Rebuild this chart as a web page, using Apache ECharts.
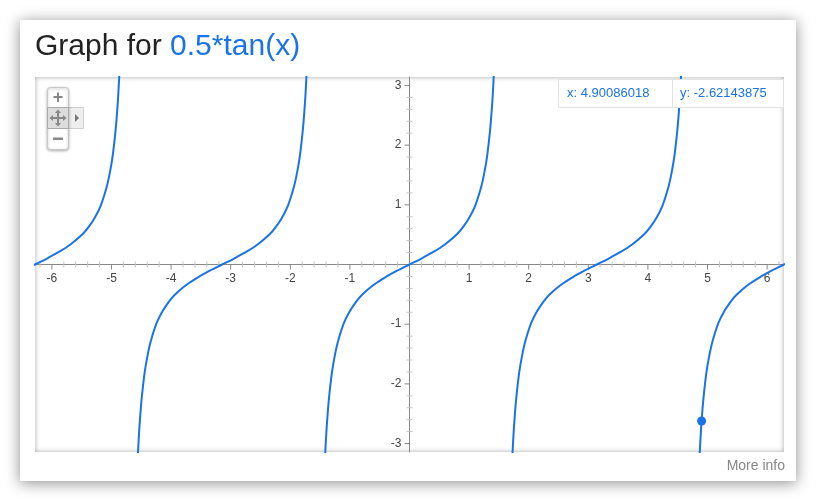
<!DOCTYPE html>
<html>
<head>
<meta charset="utf-8">
<script src="https://cdn.jsdelivr.net/npm/echarts@6/dist/echarts.min.js"></script>
<style>
  html, body { margin: 0; padding: 0; background: #fff; }
  #card { position: absolute; left: 20px; top: 20px; width: 776px; height: 461px; background: #fff;
          box-shadow: 0 2px 14px rgba(0,0,0,0.45); }
  #plotbg { position: absolute; left: 35px; top: 77px; width: 749px; height: 375px; background: #fff;
          box-shadow: inset 0 0 5px rgba(0,0,0,0.35); }
  #chart { position: absolute; left: 0; top: 0; width: 816px; height: 501px; }
</style>
</head>
<body>
<div id="card"></div>
<div id="plotbg"></div>
<div id="chart"></div>
<script>
// ---- data: 0.5*tan(x), one array per branch ----
const branchM2 = [[-6.483,-0.10],[-6.283,0],[-6.083,0.10],[-5.883,0.21],[-5.683,0.34],[-5.483,0.51],[-5.383,0.63],[-5.283,0.78],[-5.183,0.98],[-5.083,1.29],[-5.033,1.51],[-4.983,1.80],[-4.933,2.23],[-4.903,2.59],[-4.883,2.90],[-4.863,3.29]];
const branchM1 = [[-4.562,-3.29],[-4.542,-2.90],[-4.522,-2.59],[-4.492,-2.23],[-4.442,-1.80],[-4.392,-1.51],[-4.342,-1.29],[-4.242,-0.98],[-4.142,-0.78],[-4.042,-0.63],[-3.942,-0.51],[-3.742,-0.34],[-3.542,-0.21],[-3.342,-0.10],[-3.142,0],[-2.942,0.10],[-2.742,0.21],[-2.542,0.34],[-2.342,0.51],[-2.242,0.63],[-2.142,0.78],[-2.042,0.98],[-1.942,1.29],[-1.892,1.51],[-1.842,1.80],[-1.792,2.23],[-1.762,2.59],[-1.742,2.90],[-1.722,3.29]];
const branch0 = [[-1.42,-3.29],[-1.40,-2.90],[-1.38,-2.59],[-1.35,-2.23],[-1.30,-1.80],[-1.25,-1.51],[-1.20,-1.29],[-1.10,-0.98],[-1.00,-0.78],[-0.90,-0.63],[-0.80,-0.51],[-0.60,-0.34],[-0.40,-0.21],[-0.20,-0.10],[0,0],[0.20,0.10],[0.40,0.21],[0.60,0.34],[0.80,0.51],[0.90,0.63],[1.00,0.78],[1.10,0.98],[1.20,1.29],[1.25,1.51],[1.30,1.80],[1.35,2.23],[1.38,2.59],[1.40,2.90],[1.42,3.29]];
const branchP1 = [[1.722,-3.29],[1.742,-2.90],[1.762,-2.59],[1.792,-2.23],[1.842,-1.80],[1.892,-1.51],[1.942,-1.29],[2.042,-0.98],[2.142,-0.78],[2.242,-0.63],[2.342,-0.51],[2.542,-0.34],[2.742,-0.21],[2.942,-0.10],[3.142,0],[3.342,0.10],[3.542,0.21],[3.742,0.34],[3.942,0.51],[4.042,0.63],[4.142,0.78],[4.242,0.98],[4.342,1.29],[4.392,1.51],[4.442,1.80],[4.492,2.23],[4.522,2.59],[4.542,2.90],[4.562,3.29]];
const branchP2 = [[4.863,-3.29],[4.883,-2.90],[4.903,-2.59],[4.933,-2.23],[4.983,-1.80],[5.033,-1.51],[5.083,-1.29],[5.183,-0.98],[5.283,-0.78],[5.383,-0.63],[5.483,-0.51],[5.683,-0.34],[5.883,-0.21],[6.083,-0.10],[6.283,0],[6.483,0.10]];
const markerPoint = [[4.90086018, -2.62143875]];
const xTickLabels = [-6,-5,-4,-3,-2,-1,1,2,3,4,5,6];
const yTickLabels = [-3,-2,-1,1,2,3];
const xRange = [-6.2832, 6.2832];
const yRange = [-3.1416, 3.1416];
const titleText = 'Graph for ';
const titleFunc = '0.5*tan(x)';
const readoutX = 'x: 4.90086018';
const readoutY = 'y: -2.62143875';

// minor tick positions (axis decoration, every 0.2)
function minorTicks(lo, hi) {
  const out = [];
  for (let i = Math.ceil(lo * 5); i <= Math.floor(hi * 5); i++) { if (i % 5 !== 0) out.push(i / 5); }
  return out;
}
const xMinor = minorTicks(xRange[0], xRange[1]);
const yMinor = minorTicks(yRange[0], yRange[1]);

const FONT = 'Arial, "Liberation Sans", sans-serif';
const BLUE = '#1a73e8';
const AXIS = '#888';
const MINOR = '#c4c4c4';
const LABEL = '#444';
const chart = echarts.init(document.getElementById('chart'), null, { renderer: 'canvas' });

function branchSeries(data) {
  return { type: 'line', data: data, showSymbol: false, symbol: 'none',
           smooth: 0.3, lineStyle: { color: BLUE, width: 2 }, clip: true, silent: true, z: 3 };
}
function tickSeries(data, size, offset, color, label) {
  return { type: 'scatter', data: data, symbol: 'rect', symbolSize: size, symbolOffset: offset,
           itemStyle: { color: color, opacity: 1 }, silent: true, z: 2, clip: false,
           label: label || { show: false } };
}

chart.setOption({
  animation: false,
  textStyle: { fontFamily: FONT },
  grid: { left: 35, top: 77, width: 749, height: 375, containLabel: false },
  xAxis: {
    type: 'value', min: xRange[0], max: xRange[1],
    axisLine: { show: true, onZero: true, lineStyle: { color: AXIS, width: 1 } },
    axisTick: { show: false }, axisLabel: { show: false }, splitLine: { show: false }
  },
  yAxis: {
    type: 'value', min: yRange[0], max: yRange[1],
    axisLine: { show: true, onZero: true, lineStyle: { color: AXIS, width: 1 } },
    axisTick: { show: false }, axisLabel: { show: false }, splitLine: { show: false }
  },
  series: [
    // minor ticks across the axes
    tickSeries(xMinor.map(v => [v, 0]), [1, 6], [0, 0], MINOR),
    tickSeries(yMinor.map(v => [0, v]), [6, 1], [0, 0], MINOR),
    // major ticks with their labels
    tickSeries(xTickLabels.map(v => [v, 0]), [1, 5], [0, 2.5], AXIS,
      { show: true, position: 'bottom', distance: 3, color: LABEL, fontSize: 12, fontFamily: FONT,
        formatter: p => String(p.value[0]) }),
    tickSeries(yTickLabels.map(v => [0, v]), [5, 1], [-2.5, 0], AXIS,
      { show: true, position: 'left', distance: 3, color: LABEL, fontSize: 12, fontFamily: FONT,
        formatter: p => String(p.value[1]) }),
    branchSeries(branchM2), branchSeries(branchM1), branchSeries(branch0),
    branchSeries(branchP1), branchSeries(branchP2),
    { type: 'scatter', data: markerPoint, symbol: 'circle', symbolSize: 9,
      itemStyle: { color: BLUE, opacity: 1 }, z: 5, silent: true }
  ],
  graphic: [
    { type: 'text', left: 35, top: 32, silent: true,
      style: { text: '{a|' + titleText + '}{b|' + titleFunc + '}',
               rich: { a: { fill: '#222', fontSize: 30, fontFamily: FONT }, b: { fill: BLUE, fontSize: 30, fontFamily: FONT } } } },
    { type: 'text', right: 31, top: 459, silent: true,
      style: { text: 'More info', fill: '#888', fontSize: 14, fontFamily: FONT } },
    // readout box
    { type: 'rect', shape: { x: 558.5, y: 79.5, width: 225, height: 28 }, silent: true, z: 10,
      style: { fill: '#fff', stroke: '#e3e3e3', lineWidth: 1 } },
    { type: 'line', shape: { x1: 672.5, y1: 80, x2: 672.5, y2: 107 }, silent: true, z: 11,
      style: { stroke: '#e3e3e3', lineWidth: 1 } },
    { type: 'text', x: 567, y: 93, silent: true, z: 11,
      style: { text: readoutX, fill: BLUE, fontSize: 13, fontFamily: FONT, verticalAlign: 'middle' } },
    { type: 'text', x: 680, y: 93, silent: true, z: 11,
      style: { text: readoutY, fill: BLUE, fontSize: 13, fontFamily: FONT, verticalAlign: 'middle' } },
    // zoom control
    { type: 'rect', shape: { x: 68.5, y: 107.5, width: 15, height: 21 }, silent: true, z: 10,
      style: { fill: '#eee', stroke: '#d0d0d0', lineWidth: 1 } },
    { type: 'polygon', shape: { points: [[75, 114], [79, 118], [75, 122]] }, silent: true, z: 11,
      style: { fill: '#777' } },
    { type: 'rect', shape: { x: 47.5, y: 87.5, width: 21, height: 62, r: 3 }, silent: true, z: 10,
      style: { fill: '#fff', stroke: '#c8c8c8', lineWidth: 1, shadowBlur: 3, shadowColor: 'rgba(0,0,0,0.3)', shadowOffsetY: 1 } },
    { type: 'rect', shape: { x: 47.5, y: 107.5, width: 21, height: 21 }, silent: true, z: 11,
      style: { fill: '#ddd', stroke: '#aaa', lineWidth: 1 } },
    { type: 'text', x: 58, y: 98, silent: true, z: 12,
      style: { text: '+', fill: '#888', fontSize: 18, fontWeight: 'bold', fontFamily: FONT, align: 'center', verticalAlign: 'middle' } },
    { type: 'rect', shape: { x: 53, y: 137.5, width: 10, height: 2.5 }, silent: true, z: 12, style: { fill: '#888' } },
    // move cross
    { type: 'rect', shape: { x: 57, y: 111, width: 2, height: 14 }, silent: true, z: 12, style: { fill: '#888' } },
    { type: 'rect', shape: { x: 51, y: 117, width: 14, height: 2 }, silent: true, z: 12, style: { fill: '#888' } },
    { type: 'polygon', shape: { points: [[58, 109.5], [61, 113], [55, 113]] }, silent: true, z: 12, style: { fill: '#888' } },
    { type: 'polygon', shape: { points: [[58, 126.5], [61, 123], [55, 123]] }, silent: true, z: 12, style: { fill: '#888' } },
    { type: 'polygon', shape: { points: [[49.5, 118], [53, 115], [53, 121]] }, silent: true, z: 12, style: { fill: '#888' } },
    { type: 'polygon', shape: { points: [[66.5, 118], [63, 115], [63, 121]] }, silent: true, z: 12, style: { fill: '#888' } }
  ]
});
</script>
</body>
</html>
